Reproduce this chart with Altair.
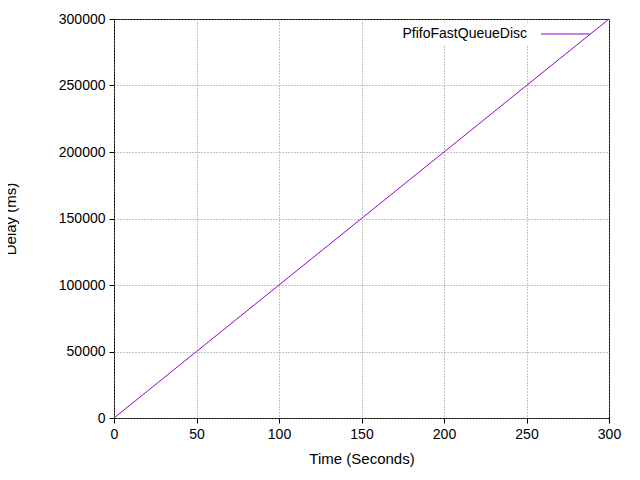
import altair as alt
import pandas as pd

time_s = [0, 50, 100, 150, 200, 250, 300]
delay_ms = [0, 50000, 100000, 150000, 200000, 250000, 300000]

df = pd.DataFrame({"time": time_s, "delay": delay_ms})
font = "Liberation Sans"

line = alt.Chart(df).mark_line(color="#9400d3", strokeWidth=1).encode(
    x=alt.X("time:Q", title="Time (Seconds)",
            scale=alt.Scale(domain=[0, 300], nice=False),
            axis=alt.Axis(values=[0, 50, 100, 150, 200, 250, 300])),
    y=alt.Y("delay:Q", title="Delay (ms)",
            scale=alt.Scale(domain=[0, 300000], nice=False),
            axis=alt.Axis(values=[0, 50000, 100000, 150000, 200000, 250000, 300000],
                          format="d")),
)

legend_bg = alt.Chart(pd.DataFrame({"a": [0]})).mark_rect(color="white").encode(
    x=alt.value(255), x2=alt.value(418), y=alt.value(4), y2=alt.value(26))
legend_text = alt.Chart(pd.DataFrame({"t": ["PfifoFastQueueDisc"]})).mark_text(
    align="right", baseline="middle", font=font, fontSize=14).encode(
    text="t:N", x=alt.value(413), y=alt.value(15))
legend_line = alt.Chart(pd.DataFrame({"a": [0]})).mark_rule(color="#9400d3").encode(
    x=alt.value(427), x2=alt.value(476), y=alt.value(15))

chart = alt.layer(legend_bg, line, legend_text, legend_line).properties(
    width=495, height=399,
    autosize=alt.AutoSizeParams(type="none"),
    padding={"left": 106, "top": 11, "right": 23, "bottom": 54},
).configure_view(stroke="black", strokeWidth=1).configure_axis(
    grid=True, gridColor="#888888", gridDash=[1, 2], domain=False,
    tickColor="black", tickSize=5, labelFont=font, labelFontSize=14,
    labelColor="black", titleFont=font, titleFontSize=15, titleFontWeight="normal",
    titleColor="black", labelPadding=4, labelFlush=False,
).configure_axisY(titlePadding=40).configure_axisX(titlePadding=10)

chart.save("out.html", embed_options={"renderer": "svg", "actions": False})
